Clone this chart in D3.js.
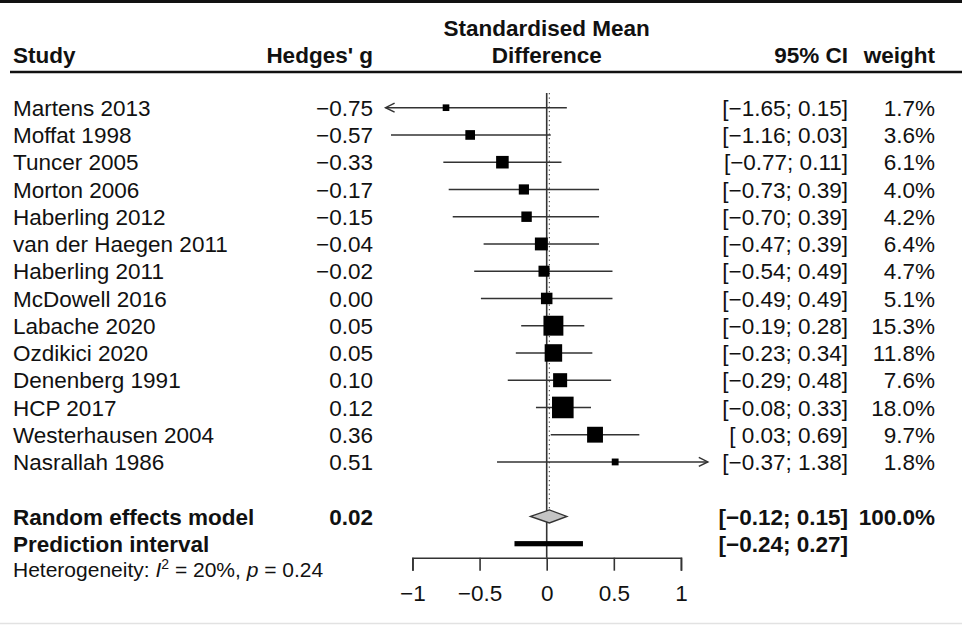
<!DOCTYPE html>
<html>
<head>
<meta charset="utf-8">
<script src="https://cdn.jsdelivr.net/npm/d3@7"></script>
<style>
  body { margin: 0; background: #fff; }
  text { font-family: 'Liberation Sans', Arial, sans-serif; fill: #111; }
</style>
</head>
<body>
<div id="svg-container"></div>
<script>
// Forest plot data
const studies = ['Martens 2013', 'Moffat 1998', 'Tuncer 2005', 'Morton 2006', 'Haberling 2012',
  'van der Haegen 2011', 'Haberling 2011', 'McDowell 2016', 'Labache 2020', 'Ozdikici 2020',
  'Denenberg 1991', 'HCP 2017', 'Westerhausen 2004', 'Nasrallah 1986']
const hedgesG = [-0.75, -0.57, -0.33, -0.17, -0.15, -0.04, -0.02, 0.0, 0.05, 0.05, 0.10, 0.12, 0.36, 0.51]
const ciLow = [-1.65, -1.16, -0.77, -0.73, -0.70, -0.47, -0.54, -0.49, -0.19, -0.23, -0.29, -0.08, 0.03, -0.37]
const ciHigh = [0.15, 0.03, 0.11, 0.39, 0.39, 0.39, 0.49, 0.49, 0.28, 0.34, 0.48, 0.33, 0.69, 1.38]
const weights = [1.7, 3.6, 6.1, 4.0, 4.2, 6.4, 4.7, 5.1, 15.3, 11.8, 7.6, 18.0, 9.7, 1.8]

const pooledEst = 0.02
const pooledCI = [-0.12, 0.15]
const predCI = [-0.24, 0.27]
const xTicks = [-1, -0.5, 0, 0.5, 1]

var svgWidth = 962,
  svgHeight = 625

var svg = d3
  .select('#svg-container')
  .append('svg')
  .attr('width', svgWidth)
  .attr('height', svgHeight)

// Scales
var x = d3.scaleLinear().domain([-1.2, 1.2]).range([385.6, 707.8])
var y = d3.scaleLinear().domain([0, 16]).range([107.7, 543.7])
var size = d3.scaleSqrt().domain([0, 18]).range([0, 21.6])

const f2 = d3.format('.2f')
const f1 = d3.format('.1f')
const fs = 22.5
const lineCol = '#333'

const colStudy = 13,
  colG = 373,
  colCI = 848,
  colW = 935

// Rules
svg.append('line').attr('x1', 0).attr('x2', svgWidth).attr('y1', 1.5).attr('y2', 1.5)
  .attr('stroke', '#111').attr('stroke-width', 3)
svg.append('line').attr('x1', 10).attr('x2', svgWidth).attr('y1', 72).attr('y2', 72)
  .attr('stroke', '#111').attr('stroke-width', 2.5)
svg.append('line').attr('x1', 0).attr('x2', svgWidth).attr('y1', 623.5).attr('y2', 623.5)
  .attr('stroke', '#e2e2e2').attr('stroke-width', 1.5)

// Header
function addText(xp, yp, txt, anchor, bold, size) {
  return svg.append('text')
    .attr('x', xp).attr('y', yp)
    .attr('dy', '0.36em')
    .attr('text-anchor', anchor)
    .style('font-size', (size || fs) + 'px')
    .style('font-weight', bold ? 'bold' : 'normal')
    .text(txt)
}
addText(colStudy, 55, 'Study', 'start', true)
addText(colG, 55, "Hedges' g", 'end', true)
addText(x(0), 28, 'Standardised Mean', 'middle', true)
addText(x(0), 55, 'Difference', 'middle', true)
addText(colCI, 55, '95% CI', 'end', true)
addText(colW, 55, 'weight', 'end', true)

// Reference lines
svg.append('line')
  .attr('x1', x(0)).attr('x2', x(0)).attr('y1', 93).attr('y2', 557.7)
  .attr('stroke', lineCol).attr('stroke-width', 1.6)
svg.append('line')
  .attr('x1', x(pooledEst)).attr('x2', x(pooledEst)).attr('y1', 93).attr('y2', y(15) - 7)
  .attr('stroke', '#555').attr('stroke-width', 1.2).attr('stroke-dasharray', '1.2,3.3')

// Study rows
const rows = studies.map((s, i) => ({
  study: s, g: hedgesG[i], lo: ciLow[i], hi: ciHigh[i], w: weights[i], i: i,
}))
const [xMin, xMax] = x.domain()

var rg = svg.selectAll('g.row').data(rows).join('g').attr('class', 'row')

rg.append('text').attr('x', colStudy).attr('y', d => y(d.i)).attr('dy', '0.36em')
  .style('font-size', fs + 'px').text(d => d.study)
rg.append('text').attr('x', colG).attr('y', d => y(d.i)).attr('dy', '0.36em')
  .attr('text-anchor', 'end').style('font-size', fs + 'px').text(d => f2(d.g))
rg.append('text').attr('x', colCI).attr('y', d => y(d.i)).attr('dy', '0.36em')
  .attr('text-anchor', 'end').style('font-size', fs + 'px').style('white-space', 'pre')
  .text(d => '[' + (d.lo >= 0 ? ' ' : '') + f2(d.lo) + '; ' + f2(d.hi) + ']')
rg.append('text').attr('x', colW).attr('y', d => y(d.i)).attr('dy', '0.36em')
  .attr('text-anchor', 'end').style('font-size', fs + 'px').text(d => f1(d.w) + '%')

rg.append('line')
  .attr('x1', d => x(Math.max(d.lo, xMin)))
  .attr('x2', d => x(Math.min(d.hi, xMax)))
  .attr('y1', d => y(d.i)).attr('y2', d => y(d.i))
  .attr('stroke', lineCol).attr('stroke-width', 1.5)

// arrows where CI goes past the plotted range
rg.filter(d => d.lo < xMin).append('path')
  .attr('d', d => `M${x(xMin) + 9},${y(d.i) - 4.5}L${x(xMin)},${y(d.i)}L${x(xMin) + 9},${y(d.i) + 4.5}`)
  .attr('fill', 'none').attr('stroke', lineCol).attr('stroke-width', 1.5)
rg.filter(d => d.hi > xMax).append('path')
  .attr('d', d => `M${x(xMax) - 9},${y(d.i) - 4.5}L${x(xMax)},${y(d.i)}L${x(xMax) - 9},${y(d.i) + 4.5}`)
  .attr('fill', 'none').attr('stroke', lineCol).attr('stroke-width', 1.5)

rg.append('rect')
  .attr('x', d => x(d.g) - size(d.w) / 2)
  .attr('y', d => y(d.i) - size(d.w) / 2)
  .attr('width', d => size(d.w))
  .attr('height', d => size(d.w))
  .attr('fill', '#000')

// Pooled estimate
const yRE = y(15),
  yPI = y(16)
addText(colStudy, yRE, 'Random effects model', 'start', true)
addText(colG, yRE, f2(pooledEst), 'end', true)
addText(colCI, yRE, '[' + f2(pooledCI[0]) + '; ' + f2(pooledCI[1]) + ']', 'end', true)
addText(colW, yRE, '100.0%', 'end', true)
svg.append('path')
  .attr('d', `M${x(pooledCI[0])},${yRE}L${x(pooledEst)},${yRE - 6.5}L${x(pooledCI[1])},${yRE}L${x(pooledEst)},${yRE + 6.5}Z`)
  .attr('fill', '#c4c4c4').attr('stroke', lineCol).attr('stroke-width', 1.4)

addText(colStudy, yPI, 'Prediction interval', 'start', true)
addText(colCI, yPI, '[' + f2(predCI[0]) + '; ' + f2(predCI[1]) + ']', 'end', true)
svg.append('rect')
  .attr('x', x(predCI[0])).attr('y', yPI - 2.6)
  .attr('width', x(predCI[1]) - x(predCI[0])).attr('height', 5.2)
  .attr('fill', '#000')

// Heterogeneity
var het = svg.append('text').attr('x', colStudy).attr('y', 569).attr('dy', '0.36em')
  .style('font-size', '21px')
het.append('tspan').text('Heterogeneity: ')
het.append('tspan').style('font-style', 'italic').text('I')
het.append('tspan').attr('dy', -8).style('font-size', '14px').text('2')
het.append('tspan').attr('dy', 8).text(' = 20%, ')
het.append('tspan').style('font-style', 'italic').text('p')
het.append('tspan').text(' = 0.24')

// Axis
var xAxisScale = x.copy().domain([-1, 1]).range([x(-1), x(1)])
var axisG = svg.append('g')
  .attr('transform', 'translate(0,557.7)')
  .call(d3.axisBottom(xAxisScale).tickValues(xTicks).tickFormat(d3.format('')).tickSizeOuter(0).tickSize(13).tickPadding(14))
axisG.select('.domain').attr('stroke', lineCol).attr('stroke-width', 1.6)
axisG.selectAll('.tick line').attr('stroke', lineCol).attr('stroke-width', 1.6)
axisG.selectAll('.tick text')
  .style('font-size', fs + 'px')
  .style('font-family', "'Liberation Sans', Arial, sans-serif")
  .attr('fill', '#111')
</script>
</body>
</html>
